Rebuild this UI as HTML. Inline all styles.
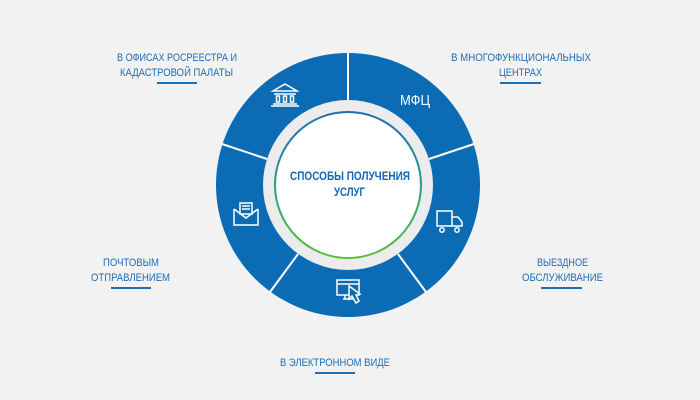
<!DOCTYPE html>
<html><head><meta charset="utf-8"><style>
html,body{margin:0;padding:0;background:#f2f2f2;}
svg{display:block}
text{font-family:"Liberation Sans","DejaVu Sans",sans-serif;}
</style></head><body>
<svg width="700" height="400" viewBox="0 0 700 400" xmlns="http://www.w3.org/2000/svg">
<defs>
<linearGradient id="g" x1="0" y1="0" x2="0" y2="1">
<stop offset="0" stop-color="#1a6fb8"/><stop offset="0.5" stop-color="#2c9a8a"/><stop offset="1" stop-color="#5cbf3c"/>
</linearGradient>
</defs>
<rect width="700" height="400" fill="#f2f2f2"/>
<circle cx="348" cy="185" r="132" fill="#0b6cb5"/>
<circle cx="348" cy="185" r="85" fill="#ececec"/>
<circle cx="348" cy="185" r="73" fill="#fff" stroke="url(#g)" stroke-width="2"/>
<g stroke="#fff" stroke-width="2">
<line x1="348" y1="100" x2="348" y2="52"/>
<line x1="429" y1="159" x2="474" y2="144"/>
<line x1="398" y1="254" x2="426" y2="292"/>
<line x1="298" y1="254" x2="270" y2="292"/>
<line x1="267" y1="159" x2="222" y2="144"/>
</g>
<g fill="#1f6db5" font-size="11" lengthAdjust="spacingAndGlyphs">
<text x="117" y="61" textLength="120" lengthAdjust="spacingAndGlyphs">В ОФИСАХ РОСРЕЕСТРА И</text>
<text x="120" y="76" textLength="113" lengthAdjust="spacingAndGlyphs">КАДАСТРОВОЙ ПАЛАТЫ</text>
<text x="451" y="61" textLength="140" lengthAdjust="spacingAndGlyphs">В МНОГОФУНКЦИОНАЛЬНЫХ</text>
<text x="499" y="76" textLength="43" lengthAdjust="spacingAndGlyphs">ЦЕНТРАХ</text>
<text x="103" y="266" textLength="56" lengthAdjust="spacingAndGlyphs">ПОЧТОВЫМ</text>
<text x="91" y="281" textLength="79" lengthAdjust="spacingAndGlyphs">ОТПРАВЛЕНИЕМ</text>
<text x="537" y="266" textLength="51" lengthAdjust="spacingAndGlyphs">ВЫЕЗДНОЕ</text>
<text x="522" y="281" textLength="81" lengthAdjust="spacingAndGlyphs">ОБСЛУЖИВАНИЕ</text>
<text x="280" y="366" textLength="110" lengthAdjust="spacingAndGlyphs">В ЭЛЕКТРОННОМ ВИДЕ</text>
</g>
<g stroke="#1f6db5" stroke-width="2">
<line x1="157" y1="83" x2="197" y2="83"/>
<line x1="500" y1="83" x2="541" y2="83"/>
<line x1="111" y1="288" x2="151" y2="288"/>
<line x1="541" y1="288" x2="582" y2="288"/>
<line x1="315" y1="373" x2="355" y2="373"/>
</g>
<g fill="#1565b0" font-size="12" font-weight="bold">
<text x="290" y="180" textLength="120" lengthAdjust="spacingAndGlyphs">СПОСОБЫ ПОЛУЧЕНИЯ</text>
<text x="334" y="196" textLength="31" lengthAdjust="spacingAndGlyphs">УСЛУГ</text>
</g>
<text x="400" y="105" fill="#fff" font-size="15" textLength="30" lengthAdjust="spacingAndGlyphs">МФЦ</text>
<!-- bank -->
<g stroke="#fff" stroke-width="1.5" fill="none">
<path d="M273 91 L285 84 L297 91 Z"/>
<line x1="274" y1="94" x2="296" y2="94"/>
<rect x="276.5" y="96" width="3" height="6"/><rect x="283.5" y="96" width="3" height="6"/><rect x="290.5" y="96" width="3" height="6"/>
<line x1="273" y1="104" x2="297" y2="104"/>
<line x1="271" y1="106" x2="299" y2="106"/>
</g>
<!-- envelope -->
<g stroke="#fff" stroke-width="1.5" fill="none">
<path d="M234 209 L234 225 L258 225 L258 209"/>
<path d="M234 209 L246 218 L258 209"/>
<rect x="240" y="203" width="12" height="11" fill="#0b6cb5"/>
<line x1="242" y1="206" x2="250" y2="206"/><line x1="242" y1="209" x2="250" y2="209"/>
</g>
<!-- truck -->
<g stroke="#fff" stroke-width="1.5" fill="none">
<rect x="437" y="211" width="15" height="15"/>
<path d="M452 217 L458 217 L462 222 L462 226 L452 226"/>
<circle cx="442" cy="230" r="2.2"/><circle cx="457" cy="230" r="2.2"/>
</g>
<!-- monitor -->
<g stroke="#fff" stroke-width="1.5" fill="none">
<rect x="337" y="280" width="22" height="15"/>
<line x1="337" y1="284" x2="359" y2="284"/>
<line x1="343" y1="299" x2="353" y2="299"/>
<line x1="345" y1="295" x2="345" y2="299"/>
<path d="M349 286 L349 299 L352 296 L356 303 L359 301 L356 295 L360 294 Z" fill="#0b6cb5"/>
</g>
</svg>
</body></html>
